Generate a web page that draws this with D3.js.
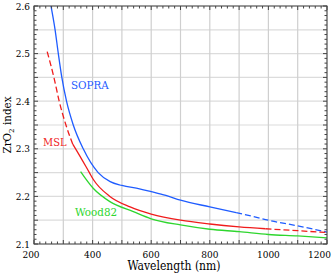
<!DOCTYPE html>
<html>
<head>
<meta charset="utf-8">
<script src="https://cdn.jsdelivr.net/npm/d3@7"></script>
<style>
  body { margin: 0; background: #fff; }
  svg { display: block; }
</style>
</head>
<body>
<div id="chart"></div>
<script>
// values (wavelength nm, index)
const sopraSolid = [[258, 2.600], [272, 2.550], [283, 2.500], [295, 2.450], [311, 2.400], [334, 2.350],
    [368, 2.300], [419, 2.250], [460, 2.231], [500, 2.223], [560, 2.216], [600, 2.210],
    [650, 2.202], [700, 2.192], [800, 2.178], [890, 2.166]];
const sopraDashed = [[890, 2.166], [940, 2.159], [1000, 2.150], [1100, 2.138], [1200, 2.125]];

const mslDashed = [[245, 2.504], [268, 2.450], [286, 2.400], [309, 2.350], [332, 2.310]];
const mslSolid = [[332, 2.310], [342, 2.300], [389, 2.250], [402, 2.236], [459, 2.200], [528, 2.178],
    [600, 2.163], [700, 2.150], [800, 2.142], [900, 2.136], [990, 2.132]];
const mslDashed2 = [[990, 2.132], [1100, 2.128], [1200, 2.124]];

const wood82 = [[359, 2.252], [402, 2.217], [459, 2.189], [539, 2.168], [600, 2.153], [700, 2.140],
    [800, 2.131], [900, 2.126], [1000, 2.120], [1100, 2.117], [1200, 2.113]];

const xTicks = [200, 400, 600, 800, 1000, 1200];
const yTicks = [2.1, 2.2, 2.3, 2.4, 2.5, 2.6];

const BLUE = '#1f5cff';
const RED = '#f01c1c';
const GREEN = '#2ed62e';
const FONT = '"DejaVu Serif Condensed", "DejaVu Serif", serif';

const width = 336, height = 276;
const margin = { top: 6, right: 9, bottom: 32, left: 34 };

const svg = d3.select('#chart').append('svg')
    .attr('width', width)
    .attr('height', height)
    .style('font-family', FONT);

const x = d3.scaleLinear().domain([200, 1200]).range([margin.left, width - margin.right]);
const y = d3.scaleLinear().domain([2.1, 2.6]).range([height - margin.bottom, margin.top]);

const plotBottom = height - margin.bottom, plotTop = margin.top;
const plotLeft = margin.left, plotRight = width - margin.right;

// grid
const grid = svg.append('g');
grid.selectAll('line.gy')
    .data(d3.range(0, 11).map(i => 2.1 + i * 0.05))
    .join('line')
    .attr('x1', plotLeft).attr('x2', plotRight)
    .attr('y1', d => y(d)).attr('y2', d => y(d))
    .attr('stroke', '#dcdcdc').attr('stroke-width', 1.2);
grid.selectAll('line.gx')
    .data(d3.range(200, 1201, 100))
    .join('line')
    .attr('y1', plotTop).attr('y2', plotBottom)
    .attr('x1', d => x(d)).attr('x2', d => x(d))
    .attr('stroke', '#cfcfcf').attr('stroke-width', 1.2);

// curves
const line = d3.line()
    .x(d => x(d[0]))
    .y(d => y(d[1]))
    .curve(d3.curveMonotoneX);

const plot = svg.append('g');
function draw(data, color, dashed) {
    plot.append('path')
        .datum(data)
        .attr('d', line)
        .attr('fill', 'none')
        .attr('stroke', color)
        .attr('stroke-width', 1.3)
        .attr('stroke-dasharray', dashed ? '6,3' : null);
}
draw(sopraSolid, BLUE, false);
draw(sopraDashed, BLUE, true);
draw(mslDashed, RED, true);
draw(mslSolid, RED, false);
draw(mslDashed2, RED, true);
draw(wood82, GREEN, false);

// frame and inward ticks on all sides
const frame = svg.append('g').attr('stroke', '#444').attr('stroke-width', 1);
frame.append('rect')
    .attr('x', plotLeft).attr('y', plotTop)
    .attr('width', plotRight - plotLeft)
    .attr('height', plotBottom - plotTop)
    .attr('fill', 'none');

const xMinor = d3.range(200, 1201, 20);
const yMinor = d3.range(0, 51).map(i => 2.1 + i * 0.01);

frame.selectAll('line.xt')
    .data(xMinor)
    .join('line')
    .attr('x1', d => x(d)).attr('x2', d => x(d))
    .attr('y1', plotBottom).attr('y2', d => plotBottom - (d % 100 === 0 ? 4 : 2.5));
frame.selectAll('line.xtt')
    .data(xMinor)
    .join('line')
    .attr('x1', d => x(d)).attr('x2', d => x(d))
    .attr('y1', plotTop).attr('y2', d => plotTop + (d % 100 === 0 ? 4 : 2.5));
frame.selectAll('line.yt')
    .data(yMinor)
    .join('line')
    .attr('y1', d => y(d)).attr('y2', d => y(d))
    .attr('x1', plotLeft).attr('x2', (d, i) => plotLeft + (i % 5 === 0 ? 4 : 2.5));
frame.selectAll('line.ytr')
    .data(yMinor)
    .join('line')
    .attr('y1', d => y(d)).attr('y2', d => y(d))
    .attr('x1', plotRight).attr('x2', (d, i) => plotRight - (i % 5 === 0 ? 4 : 2.5));

// tick labels (end labels nudged to stay inside the picture, as in the reference)
const lastX = xTicks[xTicks.length - 1];
svg.append('g').selectAll('text')
    .data(xTicks)
    .join('text')
    .attr('x', d => d === lastX ? width - 5 : x(d) - (d === xTicks[0] ? 3 : 0))
    .attr('y', plotBottom + 14)
    .attr('text-anchor', d => d === lastX ? 'end' : 'middle')
    .attr('font-size', 10)
    .text(d => d);
svg.append('g').selectAll('text')
    .data(yTicks)
    .join('text')
    .attr('x', plotLeft - 4)
    .attr('y', d => y(d))
    .attr('dy', '0.35em')
    .attr('text-anchor', 'end')
    .attr('font-size', 10)
    .text(d => d3.format('.1f')(d));

// axis titles
svg.append('text')
    .attr('x', 174)
    .attr('y', 270)
    .attr('text-anchor', 'middle')
    .attr('font-size', 12)
    .text('Wavelength (nm)');

const yTitle = svg.append('text')
    .attr('transform', `translate(11,${(plotTop + plotBottom) / 2}) rotate(-90)`)
    .attr('text-anchor', 'middle')
    .attr('font-size', 11.5);
yTitle.append('tspan').text('ZrO');
yTitle.append('tspan').attr('font-size', 8).attr('dy', 3).text('2');
yTitle.append('tspan').attr('dy', -3).text(' index');

// series labels
svg.append('text').attr('x', 71).attr('y', 89).attr('fill', BLUE).attr('font-size', 11.5).text('SOPRA');
svg.append('text').attr('x', 43).attr('y', 146).attr('fill', RED).attr('font-size', 11).text('MSL');
svg.append('text').attr('x', 75).attr('y', 216).attr('fill', GREEN).attr('font-size', 11.5).text('Wood82');
</script>
</body>
</html>
